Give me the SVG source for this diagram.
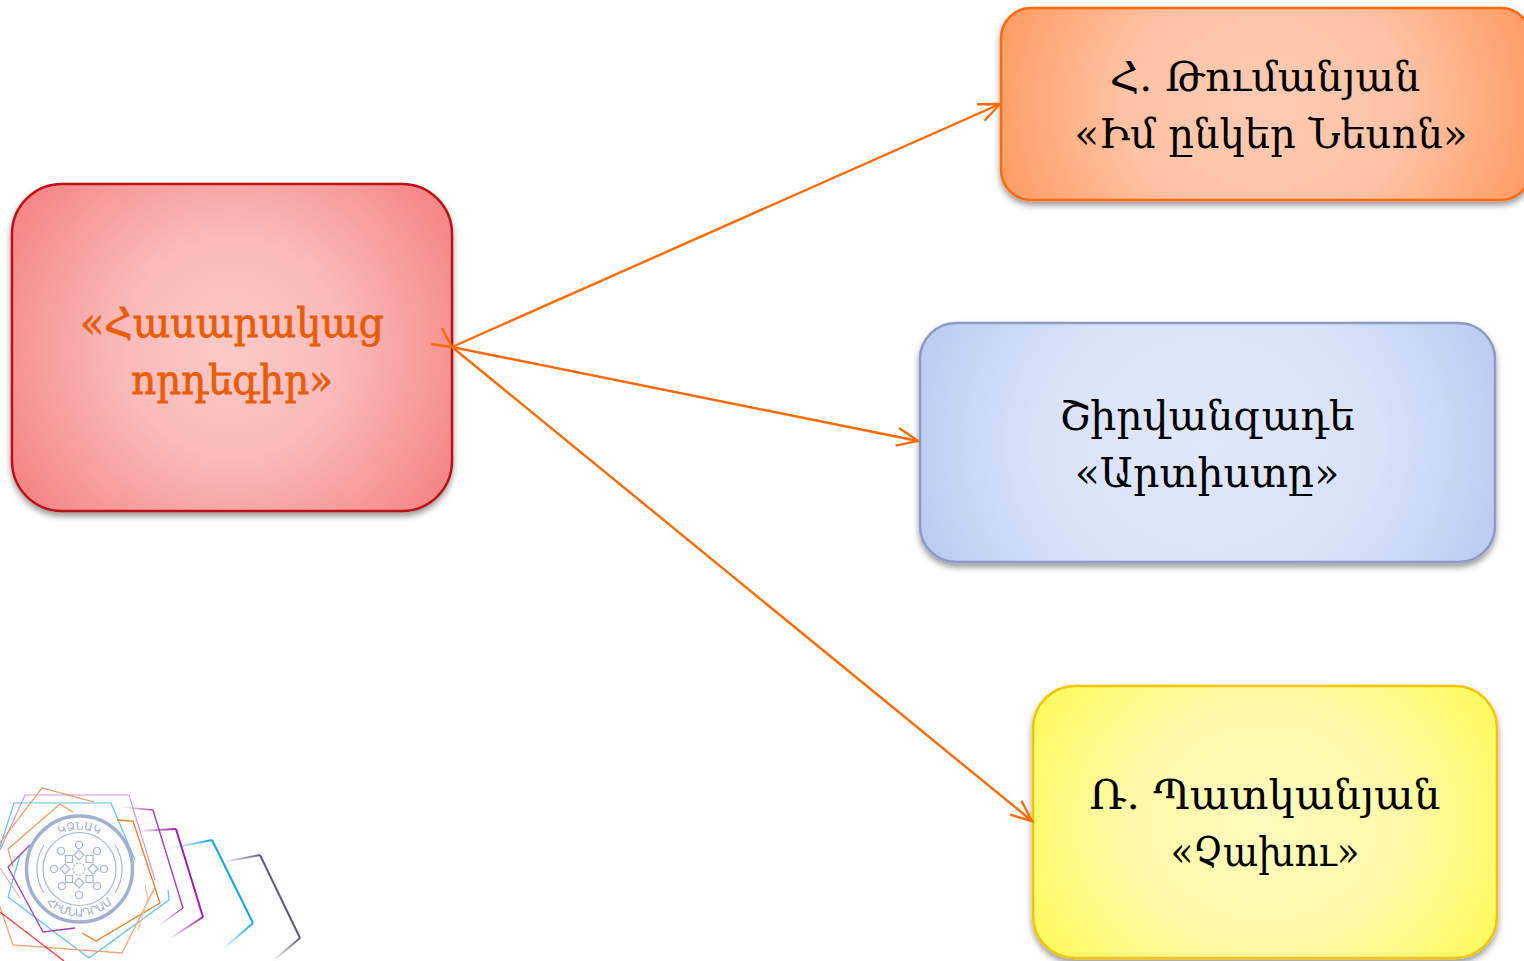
<svg xmlns="http://www.w3.org/2000/svg" width="1524" height="961" viewBox="0 0 1524 961">
<style>
text{font-family:"DejaVu Serif","Noto Sans",serif;font-size:41px;text-anchor:middle;fill:#000}
.main{fill:#e85d04;stroke:#e85d04;stroke-width:.8}
.box{stroke-width:2.5}
.c{fill:none;stroke:#ff6a00;stroke-width:2.4}
.l{fill:none}
.seal{fill:none;stroke:#a9b6d4;stroke-width:1.2}
.st{font-size:11px;fill:#a0aecd;font-family:"DejaVu Sans",sans-serif}
</style>
<defs>
<filter id="sh" x="-5%" y="-5%" width="110%" height="112%"><feDropShadow dx="0" dy="4" stdDeviation="3" flood-color="#000" flood-opacity=".4"/></filter>
<radialGradient id="gr" cx=".5" cy=".5" r=".62" gradientTransform="translate(0 .5) scale(1 1.35) translate(0 -.5)"><stop offset="0" stop-color="#fbc9c9"/><stop offset=".4" stop-color="#f9baba"/><stop offset="1" stop-color="#f57f7f"/></radialGradient>
<radialGradient id="go" cx=".5" cy=".5" r=".58" gradientTransform="translate(0 .5) scale(1 2.4) translate(0 -.5)"><stop offset="0" stop-color="#fecbb2"/><stop offset=".45" stop-color="#fec3a6"/><stop offset="1" stop-color="#fe9455"/></radialGradient>
<radialGradient id="gb" cx=".5" cy=".5" r=".58" gradientTransform="translate(0 .5) scale(1 2.2) translate(0 -.5)"><stop offset="0" stop-color="#dfe7fa"/><stop offset=".5" stop-color="#d9e3f8"/><stop offset="1" stop-color="#b5c7f1"/></radialGradient>
<radialGradient id="gy" cx=".5" cy=".5" r=".6" gradientTransform="translate(0 .5) scale(1 1.5) translate(0 -.5)"><stop offset="0" stop-color="#fffbbd"/><stop offset=".5" stop-color="#fffaa8"/><stop offset="1" stop-color="#fffb55"/></radialGradient>
<marker id="a" markerUnits="userSpaceOnUse" markerWidth="26" markerHeight="26" refX="22" refY="10" orient="auto"><path d="M1 1 22 10 1 19" fill="none" stroke="#ff6a00" stroke-width="2.4"/></marker>
<linearGradient id="f1" gradientUnits="userSpaceOnUse" x1="223" y1="862" x2="262" y2="855"><stop offset="0" stop-color="#5b5d77" stop-opacity="0"/><stop offset="1" stop-color="#5b5d77"/></linearGradient>
<linearGradient id="f1b" gradientUnits="userSpaceOnUse" x1="300" y1="938" x2="273" y2="961"><stop offset="0" stop-color="#5b5d77"/><stop offset="1" stop-color="#5b5d77" stop-opacity="0"/></linearGradient>
<linearGradient id="f2" gradientUnits="userSpaceOnUse" x1="172" y1="848" x2="212" y2="840"><stop offset="0" stop-color="#0ea7e8" stop-opacity="0"/><stop offset="1" stop-color="#0ea7e8"/></linearGradient>
<linearGradient id="f2b" gradientUnits="userSpaceOnUse" x1="253" y1="923" x2="222" y2="950"><stop offset="0" stop-color="#0ea7e8"/><stop offset="1" stop-color="#0ea7e8" stop-opacity="0"/></linearGradient>
<linearGradient id="f3" gradientUnits="userSpaceOnUse" x1="138" y1="831" x2="176" y2="829"><stop offset="0" stop-color="#9a1fae" stop-opacity="0"/><stop offset="1" stop-color="#9a1fae"/></linearGradient>
<linearGradient id="f3b" gradientUnits="userSpaceOnUse" x1="203" y1="917" x2="169" y2="939"><stop offset="0" stop-color="#9a1fae"/><stop offset="1" stop-color="#9a1fae" stop-opacity="0"/></linearGradient>
<linearGradient id="f4" gradientUnits="userSpaceOnUse" x1="122" y1="807" x2="153" y2="810"><stop offset="0" stop-color="#a63cba" stop-opacity="0"/><stop offset="1" stop-color="#a63cba"/></linearGradient>
<linearGradient id="f4b" gradientUnits="userSpaceOnUse" x1="183" y1="908" x2="158" y2="926"><stop offset="0" stop-color="#a63cba"/><stop offset="1" stop-color="#a63cba" stop-opacity="0"/></linearGradient>
<path id="arcT" d="M40 869A39.500 39.500 0 0 1 119 869"/>
<path id="arcB" d="M32 869A47.500 47.500 0 0 0 127 869"/>
</defs>

<g id="logo">
<path class="l" d="M223 862 260 855" stroke="url(#f1)" stroke-width="2"/>
<path class="l" d="M260 855 300 938" stroke="#5b5d77" stroke-width="2"/>
<path class="l" d="M300 938 273 961" stroke="url(#f1b)" stroke-width="2"/>
<path class="l" d="M172 848 212 840" stroke="url(#f2)" stroke-width="2"/>
<path class="l" d="M212 840 253 923" stroke="#0ea7e8" stroke-width="2"/>
<path class="l" d="M253 923 222 950" stroke="url(#f2b)" stroke-width="2"/>
<path class="l" d="M138 831 176 829" stroke="url(#f3)" stroke-width="2"/>
<path class="l" d="M176 829 203 917" stroke="#9a1fae" stroke-width="2"/>
<path class="l" d="M203 917 169 939" stroke="url(#f3b)" stroke-width="2"/>
<path class="l" d="M122 807 153 810" stroke="url(#f4)" stroke-width="1.4"/>
<path class="l" d="M153 810 183 908" stroke="#a63cba" stroke-width="1.4"/>
<path class="l" d="M183 908 158 926" stroke="url(#f4b)" stroke-width="1.4"/>
<path class="l" d="M0 850 25 795 129 795 155 880" stroke="#c07fd0" stroke-width="1.2" opacity=".8"/>
<path class="l" d="M0 847 14 803 111 803 135 860" stroke="#3bb7ea" stroke-width="1.2" opacity=".85"/>
<path class="l" d="M8 897 20 855M8 897 89 958 169 900 168 890" stroke="#45bcec" stroke-width="1.2" opacity=".9"/>
<path class="l" d="M0 843 42 788 94 802" stroke="#e8965a" stroke-width="1.2"/>
<path class="l" d="M13 867 8 849 60 804 73 812" stroke="#ee9a5e" stroke-width="1.2"/>
<path class="l" d="M117 820 133 821 160 903 96 941 82 933" stroke="#e87a1e" stroke-width="1.3"/>
<path class="l" d="M0 907 13 945 122 953 155 887" stroke="#f4a46e" stroke-width="1.3"/>
<path class="l" d="M30 845 8 867 43 932 75 928" stroke="#a63cba" stroke-width="1.3"/>
<path class="l" d="M0 912 64 961" stroke="#f03c3c" stroke-width="1.3"/>
<path class="l" d="M0 868 20 898" stroke="#d8b6a8" stroke-width="1.2"/>
<path class="l" d="M145 885 148 898 138 930" stroke="#eec0a8" stroke-width="1.2"/>
</g>

<g id="seal">
<circle cx="79.500" cy="869" r="53" fill="#fff" stroke="#9fb0d1" stroke-width="3.400"/>
<circle cx="79.500" cy="869" r="36.500" class="seal"/>
<path class="seal" stroke-width="1.500" d="M44 845A44 44 0 0 0 44 893M115 845A44 44 0 0 1 115 893"/>
<g class="seal">
<circle cx="79" cy="845" r="3.500"/><circle cx="79" cy="895" r="3.500"/><circle cx="54" cy="869" r="3.500"/><circle cx="104" cy="869" r="3.500"/>
<circle cx="61" cy="851" r="3.500"/><circle cx="97" cy="851" r="3.500"/><circle cx="62" cy="886" r="3.500"/><circle cx="97" cy="886" r="3.500"/>
<rect x="65.500" y="855.500" width="7" height="7"/><rect x="86" y="855.500" width="7" height="7"/><rect x="65.500" y="875.500" width="7" height="7"/><rect x="86" y="875.500" width="7" height="7"/>
<path d="M79 850l5 5-5 5-5-5zM79 878l5 5-5 5-5-5zM65 864l5 5-5 5-5-5zM93 864l5 5-5 5-5-5z"/>
<circle cx="79" cy="869" r="6" stroke-dasharray="2 1.500"/>
</g>
<text class="st"><textPath href="#arcT" startOffset="50%">ԿՁՆԱԿ</textPath></text>
<text class="st"><textPath href="#arcB" startOffset="50%">ՀԻՄՆԱԴՐԱՄ</textPath></text>
</g>

<g id="node-main">
<rect class="box" x="12" y="184" width="440" height="327" rx="50" fill="url(#gr)" stroke="#b81414" filter="url(#sh)"/>
<text class="main" x="232" y="337" textLength="304" lengthAdjust="spacingAndGlyphs">«Հասարակաց</text>
<text class="main" x="232" y="394" textLength="202" lengthAdjust="spacingAndGlyphs">որդեգիր»</text>
</g>
<g id="node-tumanyan">
<rect class="box" x="1001" y="8" width="530" height="192" rx="30" fill="url(#go)" stroke="#ff6a0d" filter="url(#sh)"/>
<text x="1265" y="91">Հ. Թումանյան</text>
<text x="1271" y="148" textLength="393" lengthAdjust="spacingAndGlyphs">«Իմ ընկեր Նեսոն»</text>
</g>
<g id="node-shirvanzade">
<rect class="box" x="920" y="323" width="575" height="239" rx="36" fill="url(#gb)" stroke="#8d9bc4" filter="url(#sh)"/>
<text x="1207" y="430">Շիրվանզադե</text>
<text x="1207" y="487">«Արտիստը»</text>
</g>
<g id="node-patkanyan">
<rect class="box" x="1033" y="686" width="464" height="272" rx="42" fill="url(#gy)" stroke="#f5c400" filter="url(#sh)"/>
<text x="1265" y="809" textLength="351" lengthAdjust="spacingAndGlyphs">Ռ. Պատկանյան</text>
<text x="1265" y="866" textLength="189" lengthAdjust="spacingAndGlyphs">«Չախու»</text>
</g>
<g id="connectors">
<path class="c" d="M452 347 1000 104" marker-end="url(#a)"/>
<path class="c" d="M452 347 918 441" marker-end="url(#a)"/>
<path class="c" d="M452 347 1032 821" marker-end="url(#a)"/>
<path class="c" d="M442 328 452 347 431 344"/>
</g>
</svg>
